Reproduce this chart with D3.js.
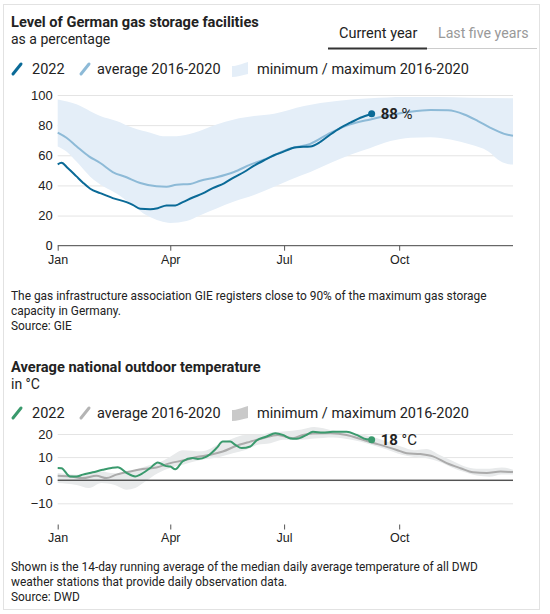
<!DOCTYPE html>
<html>
<head>
<meta charset="utf-8">
<script src="https://cdn.jsdelivr.net/npm/d3@7"></script>
<style>
body { margin: 0; background: #fff; font-family: Roboto, "Noto Sans", sans-serif; }
text { fill: #222; }
.grid line { stroke: #e4e4e4; }
.axis text { font-size: 12.5px; fill: #222; }
</style>
</head>
<body>
<div id="chart"></div>
<script>
// month labels for both x axes
var monthTicks = ["Jan", "Apr", "Jul", "Oct"];
var monthTickDays = [0, 90, 181, 273];

// gas storage, % full  ([day of year, value])
var gas2022 = [[0,54],[3,55],[8,51.6],[15,46],[20,42],[26,37.8],[34,34.9],[44,31.6],[55,28.9],[60,27.1],[66,24.5],[74,24.2],[80,24.9],[87,26.7],[94,26.7],[100,28.9],[108,32],[116,34.7],[124,38.2],[133,41.4],[141,45.4],[149,48.9],[157,53.1],[165,56.7],[173,60],[178,61.6],[191,65.4],[202,65.8],[210,68.9],[218,73.8],[226,78.2],[234,81.6],[242,84.9],[251,87.6]];
var gasAvg = [[0,75],[7,71.6],[15,66],[25,59.3],[34,54.9],[44,48.9],[55,45.4],[66,41.6],[79,39.4],[87,39.1],[95,40.5],[106,40.9],[114,43.1],[127,45.4],[141,48.9],[154,53.8],[167,57.8],[173,60],[186,64.5],[202,67.6],[218,74.9],[234,80.5],[250,83.8],[266,86.7],[282,88.9],[298,90],[312,89.8],[325,87.1],[336,82.7],[346,78.2],[357,74.2],[364,73]];
var gasMax = [[0,97],[15,93.8],[26,89.3],[34,86],[47,82.7],[60,78.2],[74,74.9],[84,72.7],[95,72.7],[109,74.9],[127,80.5],[141,83.8],[157,86],[173,87.6],[197,92.7],[223,96],[250,97.8],[277,98.7],[303,98.7],[330,98.2],[364,97.8]];
var gasMin = [[0,65.8],[7,62.5],[15,55.8],[26,45.8],[37,39.1],[47,34.7],[60,26.9],[71,20.2],[82,16.4],[90,15.1],[103,16.4],[114,20.2],[127,24.7],[141,29.3],[157,33.6],[173,39.1],[186,43.8],[202,48.9],[218,54.9],[234,60.4],[250,64.9],[266,69.4],[282,71.6],[298,72],[314,70.5],[330,67.1],[344,62.7],[354,56],[364,53.8]];
var gasTicks = [0, 20, 40, 60, 80, 100];

// outdoor temperature, °C
var temp2022 = [[0,5.3],[3,5.2],[10,1.6],[15,1.6],[20,2.4],[28,3.4],[36,4.5],[43,5.3],[48,5.6],[55,3.2],[62,1.6],[66,2.4],[74,5.3],[80,7.7],[86,6.2],[90,5.9],[94,4.7],[100,8.2],[108,9.6],[112,9.2],[119,10.2],[127,13.9],[132,16.7],[138,16.7],[142,15.3],[147,13.9],[154,14.6],[159,17.2],[167,18.9],[174,20.3],[180,19.6],[186,18.1],[191,17.9],[199,19.6],[204,21],[212,20.6],[220,21],[231,21],[239,19.6],[247,17.7],[251,17.5]];
var tempAvg = [[0,1.9],[10,1.6],[20,0.9],[31,1.9],[39,0.9],[47,2.4],[58,3.8],[68,4.8],[79,5.5],[90,7.4],[100,8.5],[111,10],[122,11],[132,12.4],[143,14.9],[154,16.7],[164,18.2],[176,19.6],[188,18.2],[196,19.6],[204,20.2],[218,20.3],[231,19.6],[244,17.5],[258,15.3],[271,13.1],[279,11.7],[290,11.3],[300,10.3],[311,7.4],[322,5.2],[332,3.4],[343,3.1],[354,3.8],[364,3.5]];
var tempMax = [[0,3.1],[15,2.4],[25,2.9],[35,3.8],[45,3],[55,3],[62,4.5],[70,5.9],[80,7.4],[90,10.2],[100,13],[115,12.5],[130,15.9],[140,18.1],[150,19.6],[160,19.6],[170,20.7],[180,21.1],[195,22],[205,23],[220,21.5],[235,20.5],[250,19],[262,17],[275,14.5],[285,13],[295,13.5],[305,11],[315,8.5],[325,6],[335,5],[345,5],[355,5.5],[364,4.5]];
var tempMin = [[0,-1.2],[15,-2.1],[25,-3.4],[35,-1.2],[45,-2],[55,-4.1],[62,-3.4],[70,-0.6],[80,3],[90,5.3],[100,6.7],[115,8.8],[130,10.2],[140,11.7],[150,13.1],[160,15.3],[170,16],[180,17.5],[195,17.5],[205,18],[220,18.5],[235,17.5],[250,15.5],[262,13.5],[275,11],[285,10],[295,9.5],[305,8],[315,5.5],[325,3.5],[335,2],[345,1.5],[355,2.5],[364,2.5]];
var tempTicks = [-10, 0, 10, 20];

function dayToDate(d) {
    return new Date(2022, 0, 1 + d);
}

var svg = d3.select("#chart").append("svg")
    .attr("width", 550)
    .attr("height", 614);

// card frame
svg.append("rect")
    .attr("x", 3.5).attr("y", 4.5)
    .attr("width", 536).attr("height", 605)
    .attr("fill", "none")
    .attr("stroke", "#e2e2e2");

var x = d3.scaleTime()
    .domain([dayToDate(0), dayToDate(364)])
    .range([57.7, 513]);

function addText(txt, tx, ty, size, weight, color) {
    return svg.append("text")
        .attr("x", tx).attr("y", ty)
        .style("font-size", size + "px")
        .style("font-weight", weight || "normal")
        .style("fill", color || "#222")
        .text(txt);
}

function legend(ly, lineColor, avgColor, bandColor) {
    var g = svg.append("g").attr("transform", "translate(0," + ly + ")");
    g.append("line").attr("x1", 13).attr("y1", 5).attr("x2", 21).attr("y2", -5)
        .attr("stroke", lineColor).attr("stroke-width", 3).attr("stroke-linecap", "round");
    g.append("text").attr("x", 32).attr("y", 5).style("font-size", "14.5px").text("2022");
    g.append("line").attr("x1", 81).attr("y1", 5).attr("x2", 89).attr("y2", -5)
        .attr("stroke", avgColor).attr("stroke-width", 3).attr("stroke-linecap", "round");
    g.append("text").attr("x", 97).attr("y", 5).style("font-size", "14.5px").text("average 2016-2020");
    g.append("path")
        .attr("d", "M232,-3 C237,-3 241,-5 248,-7 L248,5 C242,6 237,8 232,8 Z")
        .attr("fill", bandColor);
    g.append("text").attr("x", 257).attr("y", 5).style("font-size", "14.5px").text("minimum / maximum 2016-2020");
}

function drawSeries(y, band, avg, cur, colors) {
    var line = d3.line()
        .x(function (d) { return x(dayToDate(d[0])); })
        .y(function (d) { return y(d[1]); })
        .curve(d3.curveMonotoneX);

    svg.append("path")
        .attr("d", line(band.max.concat(band.min.slice().reverse())) + "Z")
        .attr("fill", colors.band);

    svg.append("path")
        .attr("d", line(avg))
        .attr("fill", "none")
        .attr("stroke", colors.avg)
        .attr("stroke-width", 2);

    svg.append("path")
        .attr("d", line(cur))
        .attr("fill", "none")
        .attr("stroke", colors.line)
        .attr("stroke-width", 2);

    var last = cur[cur.length - 1];
    svg.append("circle")
        .attr("cx", x(dayToDate(last[0])))
        .attr("cy", y(last[1]))
        .attr("r", 3.5)
        .attr("fill", colors.line);

    var lbl = svg.append("text")
        .attr("x", x(dayToDate(last[0])) + 9)
        .attr("y", y(last[1]) + 5.5)
        .style("font-size", "15px");
    lbl.append("tspan").style("font-weight", "bold").text(Math.round(last[1]));
    lbl.append("tspan").text(" " + colors.unit);
}

function xAxis(yPos, showDomain) {
    var ax = d3.axisBottom(x)
        .tickValues(monthTickDays.map(dayToDate))
        .tickFormat(function (d, i) { return monthTicks[i]; })
        .tickSize(5)
        .tickPadding(4);
    var g = svg.append("g")
        .attr("class", "axis")
        .attr("transform", "translate(0," + yPos + ")")
        .call(ax);
    g.selectAll(".tick line").attr("stroke", "#555");
    if (showDomain) {
        g.select(".domain").attr("stroke", "#444").attr("d", "M57.7,0H513");
    } else {
        g.select(".domain").remove();
    }
    return g;
}

function yGrid(y, ticks, zeroDark) {
    var g = svg.append("g")
        .attr("class", "axis grid")
        .attr("transform", "translate(57.7,0)")
        .call(d3.axisLeft(y).tickValues(ticks).tickSize(-(513 - 57.7)).tickPadding(5));
    g.select(".domain").remove();
    g.selectAll(".tick text").style("font-size", "13px");
    g.selectAll(".tick line")
        .attr("stroke", function (d) { return (d === 0 && zeroDark) ? "#111" : "#e4e4e4"; });
}

// ---------- gas storage ----------
addText("Level of German gas storage facilities", 11, 27, 14.6, "bold");
addText("as a percentage", 11, 43.5, 14);
addText("Current year", 339, 38, 14.5, "normal", "#222");
addText("Last five years", 438, 38, 14.2, "normal", "#999");
svg.append("line").attr("x1", 328).attr("x2", 537).attr("y1", 48.5).attr("y2", 48.5)
    .attr("stroke", "#ccc").attr("stroke-width", 1);
svg.append("line").attr("x1", 328).attr("x2", 427).attr("y1", 48.5).attr("y2", 48.5)
    .attr("stroke", "#333").attr("stroke-width", 2);

legend(69, "#0a6a97", "#8dbad7", "#e4eef8");

var yGas = d3.scaleLinear().domain([0, 100]).range([245.7, 95]);
yGrid(yGas, gasTicks.filter(function (t) { return t > 0; }), false);
svg.append("text").attr("x", 52.7).attr("y", yGas(0) + 4.5).attr("text-anchor", "end")
    .style("font-size", "13px").text("0");

drawSeries(yGas, {max: gasMax, min: gasMin}, gasAvg, gas2022,
    {line: "#0a6a97", avg: "#8dbad7", band: "#e4eef8", unit: "%"});
xAxis(245.7, true);

addText("The gas infrastructure association GIE registers close to 90% of the maximum gas storage", 11, 300, 11.9);
addText("capacity in Germany.", 11, 315, 11.9);
addText("Source: GIE", 11, 330, 11.9);

// ---------- temperature ----------
addText("Average national outdoor temperature", 11, 372, 14.6, "bold");
addText("in °C", 11, 388.5, 14);

legend(413, "#3a9a6d", "#b4b4b4", "#c9c9c9");

var yTemp = d3.scaleLinear().domain([-10, 20]).range([503.3, 434]);
yGrid(yTemp, tempTicks, true);

drawSeries(yTemp, {max: tempMax, min: tempMin}, tempAvg, temp2022,
    {line: "#3a9a6d", avg: "#ababab", band: "#e8eaeb", unit: "°C"});
// redraw the zero line above the band
svg.append("line")
    .attr("x1", 57.7).attr("x2", 513)
    .attr("y1", yTemp(0)).attr("y2", yTemp(0))
    .attr("stroke", "#111");
xAxis(524.5, false);

addText("Shown is the 14-day running average of the median daily average temperature of all DWD", 11, 571, 11.9);
addText("weather stations that provide daily observation data.", 11, 586, 11.9);
addText("Source: DWD", 11, 601, 11.9);
</script>
</body>
</html>
